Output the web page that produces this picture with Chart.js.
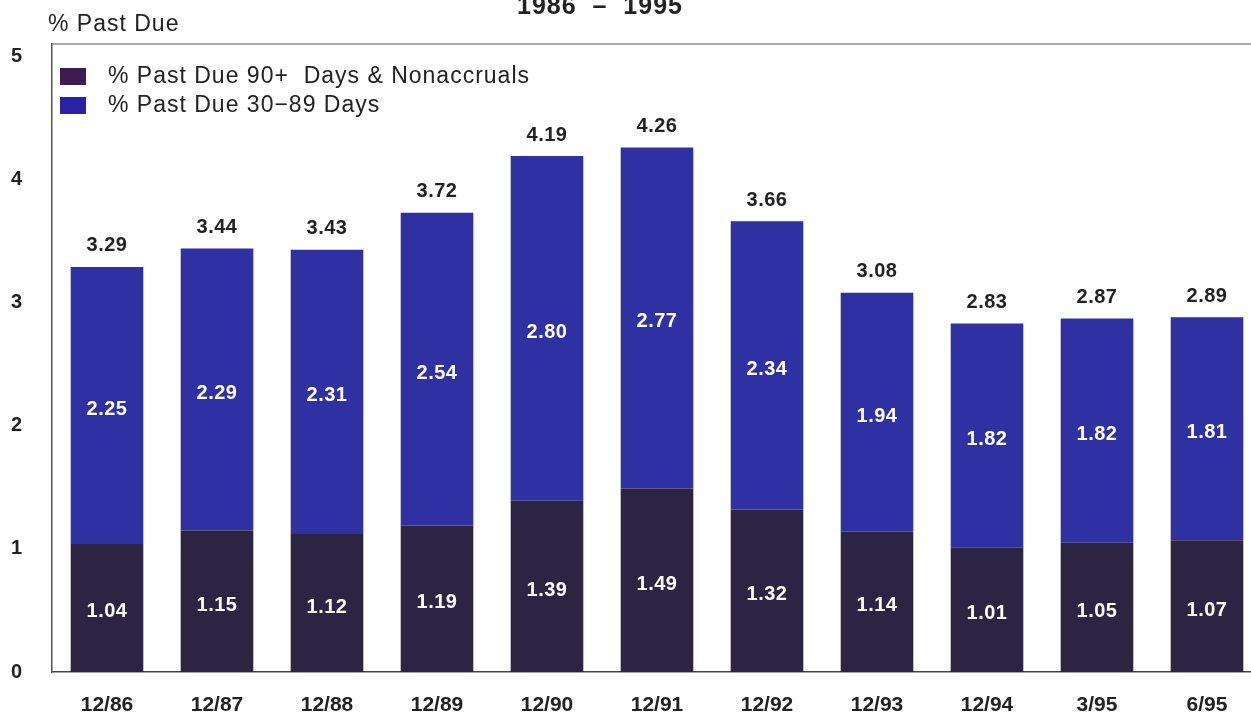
<!DOCTYPE html>
<html>
<head>
<meta charset="utf-8">
<script src="https://cdn.jsdelivr.net/npm/chart.js@4/dist/chart.umd.min.js"></script>
<style>
  html, body { margin: 0; padding: 0; background: #fff; overflow: hidden; }
  canvas { display: block; }
</style>
</head>
<body>
<canvas id="pastDueChart" width="1264" height="717"></canvas>
<script>
const periods = ['12/86', '12/87', '12/88', '12/89', '12/90', '12/91', '12/92', '12/93', '12/94', '3/95', '6/95'];
const pastDue90 = [1.04, 1.15, 1.12, 1.19, 1.39, 1.49, 1.32, 1.14, 1.01, 1.05, 1.07];
const pastDue30 = [2.25, 2.29, 2.31, 2.54, 2.80, 2.77, 2.34, 1.94, 1.82, 1.82, 1.81];
const totals = [3.29, 3.44, 3.43, 3.72, 4.19, 4.26, 3.66, 3.08, 2.83, 2.87, 2.89];
const yTicks = [0, 1, 2, 3, 4, 5];

const fontFamily = '"Liberation Sans", Arial, Helvetica, sans-serif';

// text, legend and value labels drawn on top of the bars
const annotations = {
    id: 'annotations',
    afterDatasetsDraw(chart) {
        const ctx = chart.ctx;
        const area = chart.chartArea;
        ctx.save();

        // frame top line
        ctx.strokeStyle = '#8a8a8a';
        ctx.lineWidth = 1.5;
        ctx.beginPath();
        ctx.moveTo(area.left, area.top);
        ctx.lineTo(area.right, area.top);
        ctx.stroke();

        // titles
        ctx.fillStyle = '#222';
        ctx.textBaseline = 'alphabetic';
        ctx.textAlign = 'center';
        ctx.font = 'bold 25px ' + fontFamily;
        ctx.letterSpacing = '1px';
        ctx.fillText('1986  –  1995', 600, 14);
        ctx.textAlign = 'left';
        ctx.font = '23px ' + fontFamily;
        ctx.fillText('% Past Due', 48, 31);

        // legend inside the frame
        ctx.textBaseline = 'middle';
        chart.data.datasets.forEach((ds, i) => {
            const cy = 76 + i * 29;
            ctx.fillStyle = ds.legendColor;
            ctx.fillRect(60, cy - 8, 26, 17);
            ctx.fillStyle = '#222';
            ctx.fillText(ds.label, 108, cy + 1);
        });

        // segment values
        ctx.textAlign = 'center';
        ctx.font = 'bold 20px ' + fontFamily;
        ctx.letterSpacing = '0.5px';
        ctx.fillStyle = '#ffffff';
        chart.data.datasets.forEach((ds, i) => {
            chart.getDatasetMeta(i).data.forEach((bar, j) => {
                ctx.fillText(ds.data[j].toFixed(2), bar.x, (bar.y + bar.base) / 2 + 4);
            });
        });

        // totals above bars
        ctx.fillStyle = '#222';
        const topMeta = chart.getDatasetMeta(1);
        topMeta.data.forEach((bar, j) => {
            ctx.fillText(totals[j].toFixed(2), bar.x, bar.y - 21);
        });

        ctx.restore();
    }
};

new Chart(document.getElementById('pastDueChart'), {
    type: 'bar',
    data: {
        labels: periods,
        datasets: [
            {
                label: '% Past Due 90+  Days & Nonaccruals',
                data: pastDue90,
                backgroundColor: '#2b2442',
                legendColor: '#3e1c52',
                borderWidth: 0,
                barPercentage: 0.66,
                categoryPercentage: 1.0
            },
            {
                label: '% Past Due 30−89 Days',
                data: pastDue30,
                backgroundColor: '#2f31a2',
                legendColor: '#2a22a6',
                borderWidth: 0,
                barPercentage: 0.66,
                categoryPercentage: 1.0
            }
        ]
    },
    options: {
        responsive: false,
        animation: false,
        layout: { padding: { top: 44, right: 2, left: 0, bottom: 0 } },
        plugins: {
            legend: { display: false },
            title: { display: false },
            tooltip: { enabled: false }
        },
        scales: {
            x: {
                stacked: true,
                grid: { display: false, drawTicks: false },
                border: { display: true, color: '#444', width: 1.5 },
                ticks: {
                    color: '#222',
                    padding: 21,
                    font: { family: fontFamily, size: 21, weight: 'bold' }
                },
                afterFit(scale) { scale.height = 45; }
            },
            y: {
                stacked: true,
                min: 0,
                max: 5.1,
                grid: { display: false, drawTicks: false },
                border: { display: true, color: '#555', width: 1.5 },
                afterBuildTicks(scale) { scale.ticks = yTicks.map(v => ({ value: v })); },
                ticks: {
                    color: '#222',
                    padding: 30,
                    font: { family: fontFamily, size: 20, weight: 'bold' }
                },
                afterFit(scale) { scale.width = 52; }
            }
        }
    },
    plugins: [annotations]
});
</script>
</body>
</html>
